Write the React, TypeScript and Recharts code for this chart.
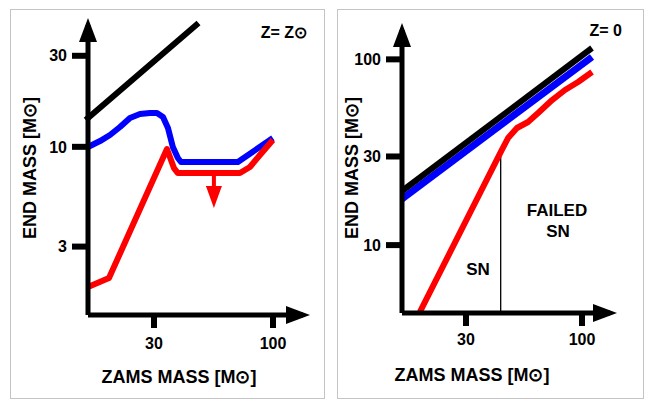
import React from 'react';
import { LineChart, Line, XAxis, YAxis, ReferenceLine } from 'recharts';

const FONT = '"Liberation Sans", Arial, Helvetica, sans-serif';

// shared x ticks (ZAMS mass)
const xTicks = [30, 100];

// ---- left panel: Z = Z_sun ----
const leftYTicks = [3, 10, 30];
const leftBlack = [
  { x: 15.38, y: 14.16 },
  { x: 46.0, y: 43.5 },
];
const leftBlue = [
  { x: 15.38, y: 9.98 },
  { x: 17.37, y: 10.72 },
  { x: 19.21, y: 11.53 },
  { x: 21.26, y: 12.7 },
  { x: 23.52, y: 14.16 },
  { x: 26.02, y: 14.86 },
  { x: 28.8, y: 15.04 },
  { x: 30.9, y: 15.04 },
  { x: 32.85, y: 14.33 },
  { x: 34.55, y: 12.55 },
  { x: 36.3, y: 9.98 },
  { x: 38.2, y: 8.74 },
  { x: 39.4, y: 8.33 },
  { x: 70.1, y: 8.33 },
  { x: 99.9, y: 11.12 },
];
const leftRed = [
  { x: 15.38, y: 1.842 },
  { x: 19.02, y: 2.053 },
  { x: 34.2, y: 9.74 },
  { x: 36.7, y: 7.74 },
  { x: 38.2, y: 7.29 },
  { x: 71.6, y: 7.29 },
  { x: 79.2, y: 7.84 },
  { x: 87.6, y: 9.06 },
  { x: 99.9, y: 10.86 },
];
const leftArrow = [
  { x: 55, y: 7.29 },
  { x: 55, y: 6.23 },
];

// ---- right panel: Z = 0 ----
const rightYTicks = [10, 30, 100];
const rightBlack = [
  { x: 15.44, y: 19.56 },
  { x: 110.9, y: 115.1 },
];
const rightBlue = [
  { x: 15.44, y: 17.72 },
  { x: 110.9, y: 103.0 },
];
const rightRed = [
  { x: 18.6, y: 4.37 },
  { x: 43.0, y: 31.7 },
  { x: 46.4, y: 37.7 },
  { x: 50.9, y: 42.7 },
  { x: 57.1, y: 46.0 },
  { x: 63.4, y: 51.4 },
  { x: 73.3, y: 60.4 },
  { x: 83.8, y: 68.4 },
  { x: 96.0, y: 75.5 },
  { x: 111.0, y: 85.5 },
];
const snDivide = [
  { x: 43.0, y: 31.7 },
  { x: 43.0, y: 4.31 },
];

const leftXDomain = [15.38, 135.5];
const leftYDomain = [1.314, 43.5];
const rightXDomain = [15.44, 133.7];
const rightYDomain = [4.31, 143.9];

const tickStyle = { fill: '#000', fontSize: 16, fontWeight: 'bold', fontFamily: FONT };
const titleStyle: React.CSSProperties = { fontFamily: FONT, fontWeight: 'bold', fill: '#000' };

const boxStyle = (left: number, width: number): React.CSSProperties => ({
  position: 'absolute',
  left,
  top: 1,
  width,
  height: 390,
  border: '1px solid #c4c4c4',
  boxSizing: 'border-box',
  background: '#fff',
});

function Markers({ id }: { id: string }) {
  return (
    <defs>
      <marker
        id={`ax-${id}`}
        viewBox="0 0 24 18"
        markerWidth={24}
        markerHeight={18}
        refX={17}
        refY={9}
        orient="auto-start-reverse"
        markerUnits="userSpaceOnUse"
      >
        <path d="M0,0 L24,9 L0,18 z" fill="#000" />
      </marker>
      <marker
        id={`red-${id}`}
        viewBox="0 0 22 16"
        markerWidth={22}
        markerHeight={16}
        refX={0}
        refY={8}
        orient="auto"
        markerUnits="userSpaceOnUse"
      >
        <path d="M0,0 L22,8 L0,16 z" fill="#ff0000" />
      </marker>
    </defs>
  );
}

function LeftPanel() {
  return (
    <LineChart width={313} height={388} margin={{ top: 15, right: 21, bottom: 0, left: 0 }}>
      <Markers id="L" />
      <XAxis
        type="number"
        dataKey="x"
        scale="log"
        domain={leftXDomain}
        ticks={xTicks}
        interval={0}
        height={83}
        tickSize={13}
        tickMargin={10}
        axisLine={{ stroke: '#000', strokeWidth: 5, markerEnd: 'url(#ax-L)' }}
        tickLine={{ stroke: '#000', strokeWidth: 6 }}
        tick={tickStyle}
      />
      <YAxis
        type="number"
        scale="log"
        domain={leftYDomain}
        ticks={leftYTicks}
        interval={0}
        width={77}
        tickSize={16}
        tickMargin={5}
        axisLine={{ stroke: '#000', strokeWidth: 5, markerStart: 'url(#ax-L)' }}
        tickLine={{ stroke: '#000', strokeWidth: 6 }}
        tick={tickStyle}
      />
      <Line data={leftBlack} dataKey="y" stroke="#000" strokeWidth={6} strokeLinecap="square" dot={false} isAnimationActive={false} />
      <Line data={leftBlue} dataKey="y" stroke="#0000ff" strokeWidth={6} strokeLinejoin="round" dot={false} isAnimationActive={false} />
      <Line data={leftRed} dataKey="y" stroke="#ff0000" strokeWidth={6} strokeLinejoin="round" dot={false} isAnimationActive={false} />
      <ReferenceLine segment={leftArrow} stroke="#ff0000" strokeWidth={4} markerEnd="url(#red-L)" />
      <text x={19} y={158} transform="rotate(-90 19 158)" textAnchor="middle" dominantBaseline="central" fontSize={18} style={titleStyle}>
        END MASS [M⊙]
      </text>
      <text x={168} y={367} textAnchor="middle" dominantBaseline="central" fontSize={18} style={titleStyle}>
        ZAMS MASS [M⊙]
      </text>
      <text x={296} y={22} textAnchor="end" dominantBaseline="central" fontSize={16} style={titleStyle}>
        Z= Z⊙
      </text>
    </LineChart>
  );
}

function RightPanel() {
  return (
    <LineChart width={305} height={388} margin={{ top: 20, right: 33, bottom: 0, left: 0 }}>
      <Markers id="R" />
      <XAxis
        type="number"
        dataKey="x"
        scale="log"
        domain={rightXDomain}
        ticks={xTicks}
        interval={0}
        height={85}
        tickSize={13}
        tickMargin={8}
        axisLine={{ stroke: '#000', strokeWidth: 5, markerEnd: 'url(#ax-R)' }}
        tickLine={{ stroke: '#000', strokeWidth: 6 }}
        tick={tickStyle}
      />
      <YAxis
        type="number"
        scale="log"
        domain={rightYDomain}
        ticks={rightYTicks}
        interval={0}
        width={64}
        tickSize={16}
        tickMargin={5}
        axisLine={{ stroke: '#000', strokeWidth: 5, markerStart: 'url(#ax-R)' }}
        tickLine={{ stroke: '#000', strokeWidth: 6 }}
        tick={tickStyle}
      />
      <ReferenceLine segment={snDivide} stroke="#000" strokeWidth={1.3} />
      <Line data={rightBlue} dataKey="y" stroke="#0000ff" strokeWidth={7} dot={false} isAnimationActive={false} />
      <Line data={rightBlack} dataKey="y" stroke="#000" strokeWidth={6} dot={false} isAnimationActive={false} />
      <Line data={rightRed} dataKey="y" stroke="#ff0000" strokeWidth={6} strokeLinejoin="round" dot={false} isAnimationActive={false} />
      <text x={14} y={158} transform="rotate(-90 14 158)" textAnchor="middle" dominantBaseline="central" fontSize={18} style={titleStyle}>
        END MASS [M⊙]
      </text>
      <text x={134} y={365} textAnchor="middle" dominantBaseline="central" fontSize={18} style={titleStyle}>
        ZAMS MASS [M⊙]
      </text>
      <text x={284} y={20} textAnchor="end" dominantBaseline="central" fontSize={16} style={titleStyle}>
        Z= 0
      </text>
      <text x={219} y={200} textAnchor="middle" dominantBaseline="central" fontSize={17} style={titleStyle}>
        FAILED
      </text>
      <text x={220} y={221} textAnchor="middle" dominantBaseline="central" fontSize={17} style={titleStyle}>
        SN
      </text>
      <text x={140} y={259} textAnchor="middle" dominantBaseline="central" fontSize={17} style={titleStyle}>
        SN
      </text>
    </LineChart>
  );
}

export default function App() {
  return (
    <div style={{ position: 'relative', width: 646, height: 393 }}>
      <div style={boxStyle(2, 315)}>
        <LeftPanel />
      </div>
      <div style={boxStyle(329, 307)}>
        <RightPanel />
      </div>
    </div>
  );
}
